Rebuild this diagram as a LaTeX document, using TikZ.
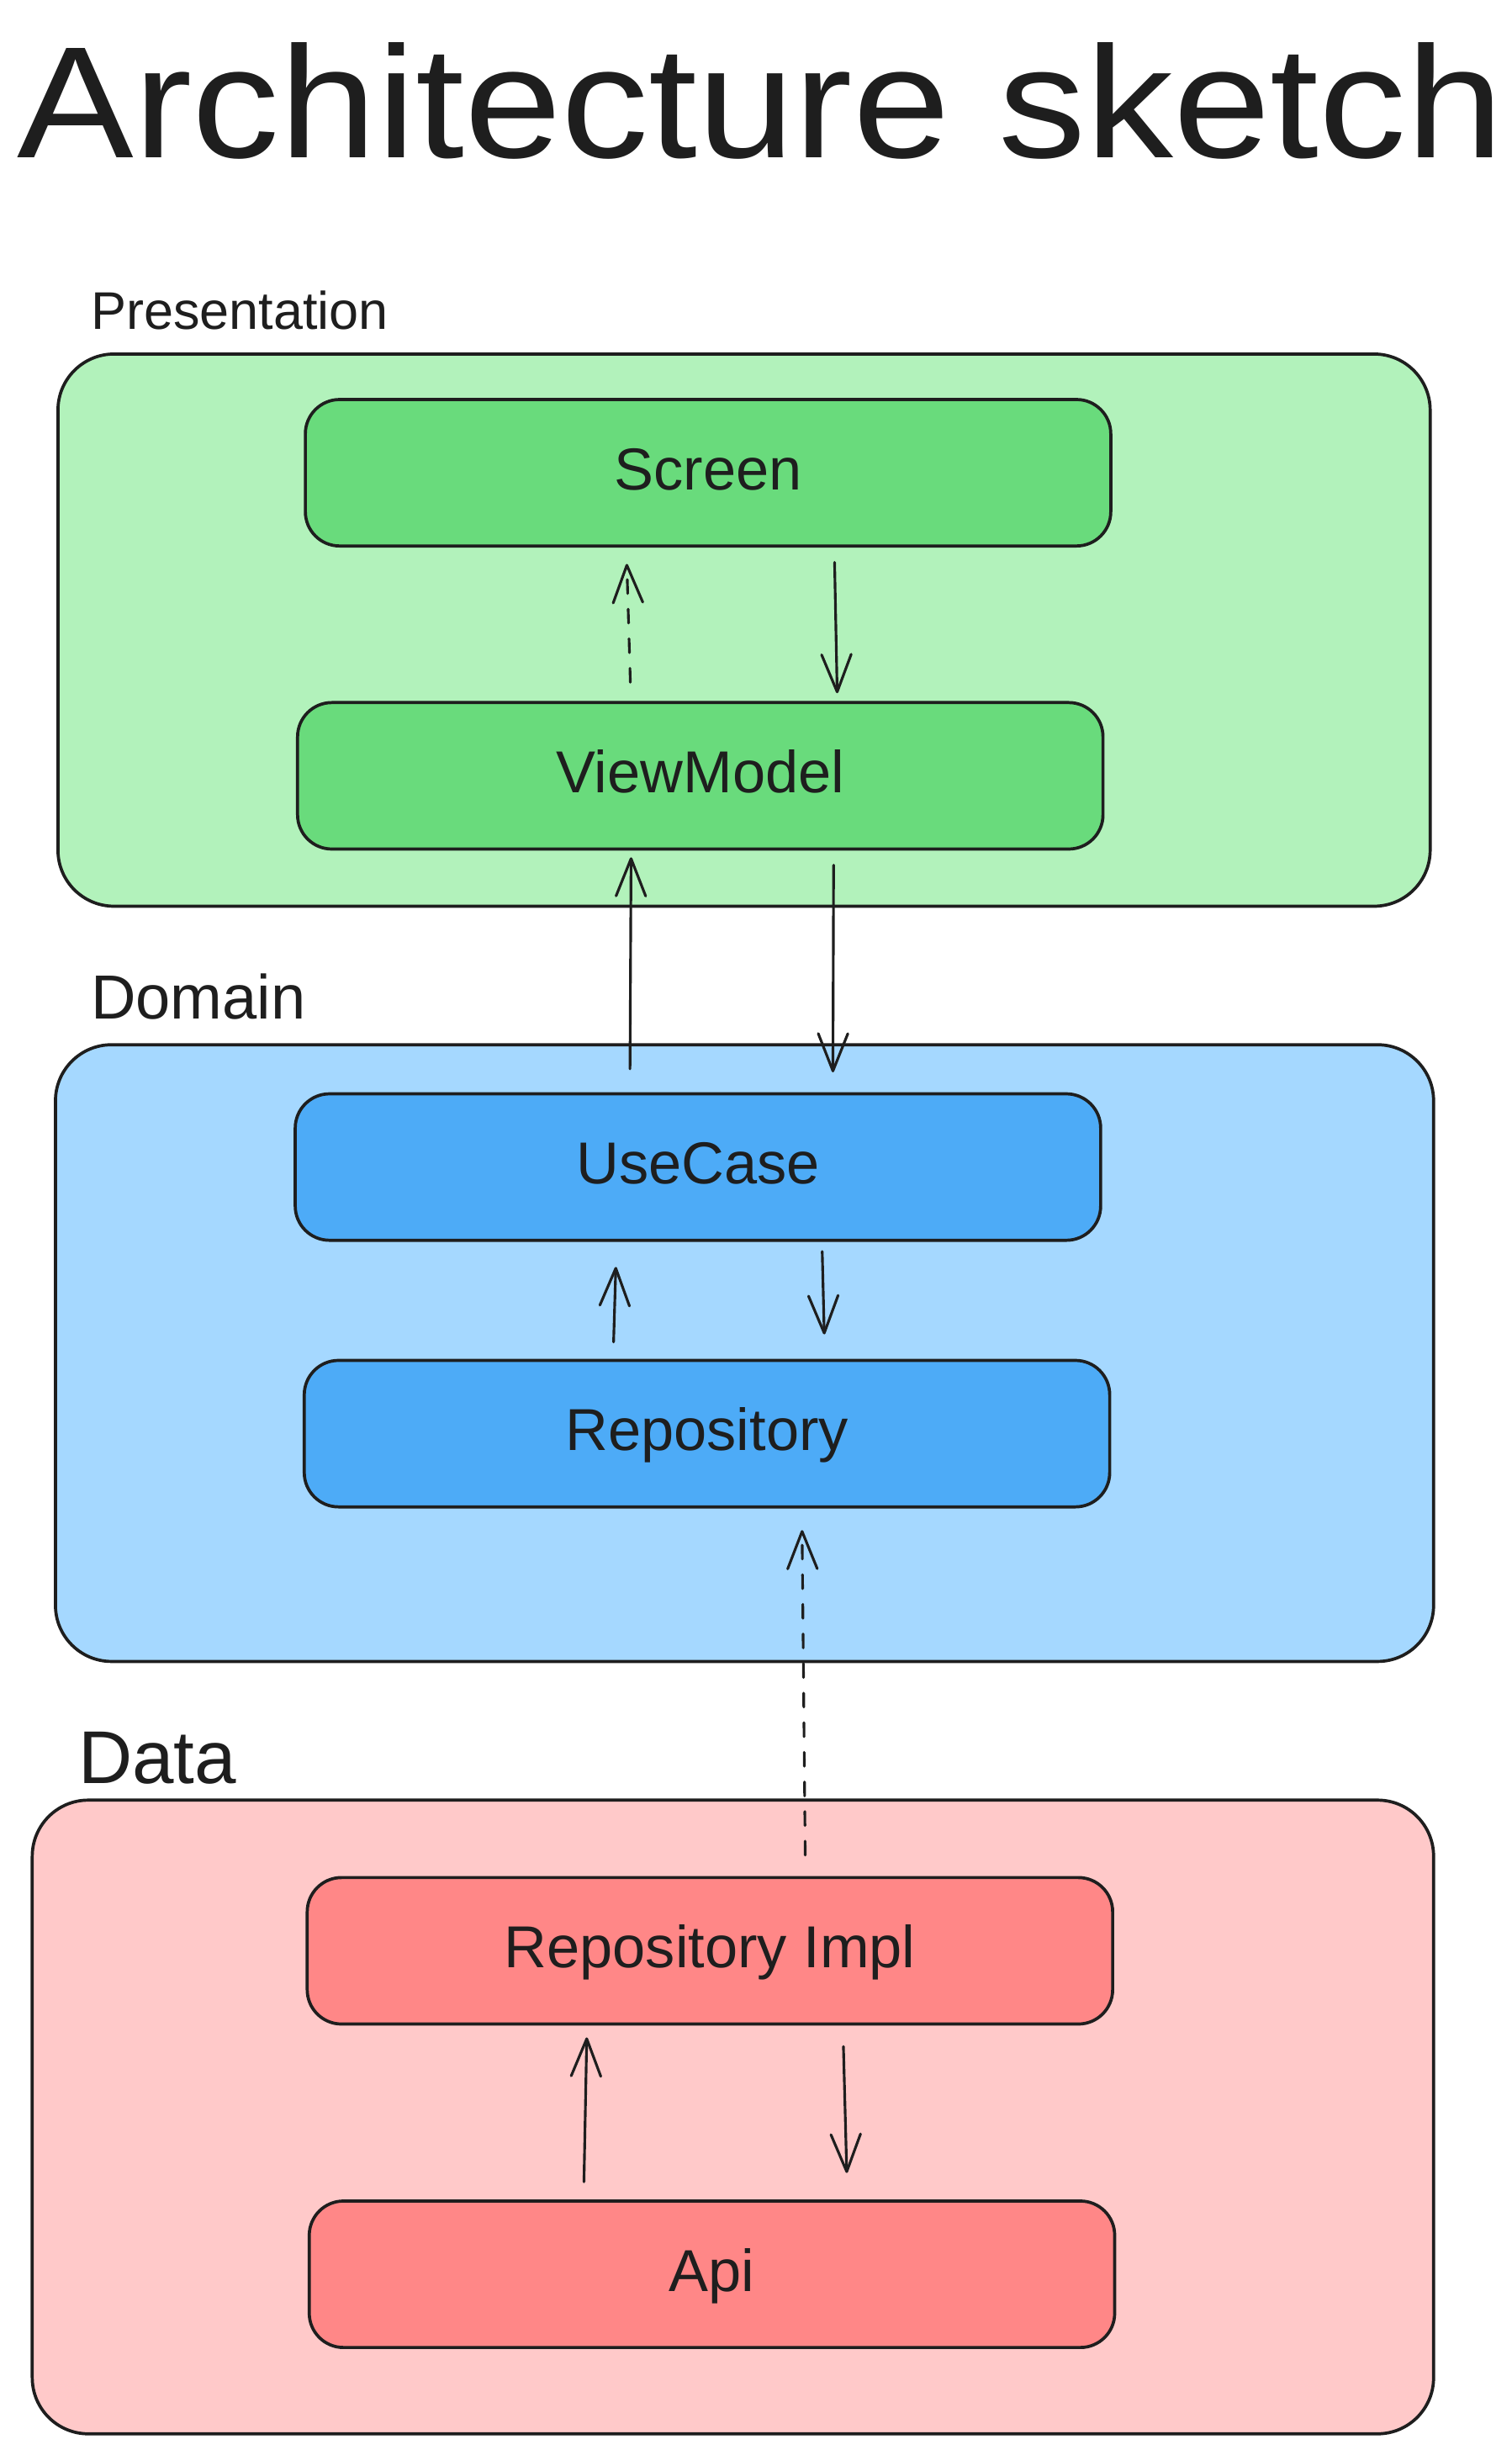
\documentclass[tikz,border=0pt]{standalone}
\usepackage{fontspec}
\setmainfont{Liberation Sans}
\usepackage{graphicx}
\usepackage{xcolor}
\definecolor{inkDark}{HTML}{1E1E1E}
\definecolor{presentBg}{HTML}{B2F2BB}
\definecolor{presentFill}{HTML}{69DB7C}
\definecolor{domainBg}{HTML}{A5D8FF}
\definecolor{domainFill}{HTML}{4DABF7}
\definecolor{dataBg}{HTML}{FFC9C9}
\definecolor{dataFill}{HTML}{FF8787}
\usetikzlibrary{positioning,arrows.meta}
\tikzset{%
  layerBox/.style={%
    rectangle,
    rounded corners=36pt,
    draw=inkDark,
    line width=2pt,
    anchor=north west,
    inner sep=0pt,
    outer sep=0pt
  },
  partBox/.style={%
    rectangle,
    rounded corners=22pt,
    draw=inkDark,
    line width=2pt,
    outer sep=0pt,
    minimum width=517pt,
    minimum height=94pt,
    text height=22pt,
    text depth=0pt,
    text=inkDark,
    font=\fontsize{38}{40}\selectfont
  },
  layerLabel/.style={%
    anchor=base west,
    inner sep=0pt,
    text=inkDark
  },
  flowLine/.style={%
    -{Straight Barb[length=24pt,width=19pt,round]},
    line width=1.7pt,
    line cap=round,
    color=inkDark
  },
  flowDashed/.style={%
    flowLine,
    dash pattern=on 9pt off 10pt
  }
}

\begin{document}
\begin{tikzpicture}[x=1pt,y=-1pt]
            \useasboundingbox[fill=white] (0,0) rectangle (970,1572.4);

            \node[layerLabel, font=\fontsize{102}{110}\selectfont] (title) at (11,101) {\scalebox{1.1}[1]{Architecture sketch}};

            % layers
            \node[layerBox, fill=presentBg, minimum width=880.8pt, minimum height=354.4pt] (presentation) at (37.2,227.2) {};
            \node[layerBox, fill=domainBg, minimum width=884.6pt, minimum height=395.8pt] (domain) at (35.6,670.5) {};
            \node[layerBox, fill=dataBg, minimum width=899.5pt, minimum height=406.7pt] (data) at (20.7,1155.3) {};

            \node[layerLabel, font=\fontsize{34}{36}\selectfont] (presentationLabel) at (58.2,211.4) {Presentation};
            \node[layerLabel, font=\fontsize{40}{42}\selectfont] (domainLabel) at (58.2,654) {Domain};
            \node[layerLabel, font=\fontsize{48}{50}\selectfont] (dataLabel) at (50,1144.7) {Data};

            % parts
            \node[partBox, fill=presentFill] (screen) at (454.5,303.4) {Screen};
            \node[partBox, fill=presentFill, below=100.5pt of screen, xshift=-5pt] (vm) {ViewModel};
            \node[partBox, fill=domainFill, below=157.1pt of vm, xshift=-1.5pt] (usecase) {UseCase};
            \node[partBox, fill=domainFill, below=77.1pt of usecase, xshift=5.8pt] (repo) {Repository};
            \node[partBox, fill=dataFill, below=237.9pt of repo, xshift=1.9pt] (impl) {Repository Impl};
            \node[partBox, fill=dataFill, below=113.6pt of impl, xshift=1.3pt] (api) {Api};

            % flows
            \draw[flowLine, shorten <=10.5pt, shorten >=6pt] ([xshift=81pt]screen.south) -- ([xshift=88pt]vm.north);
            \draw[flowDashed, shorten <=13pt, shorten >=11.5pt] ([xshift=-44.5pt]vm.north) -- ([xshift=-52.5pt]screen.south);
            \draw[flowLine, shorten <=16pt, shorten >=5.3pt] ([xshift=-43.7pt]usecase.north) -- ([xshift=-44.4pt]vm.south);
            \draw[flowLine, shorten <=10.3pt, shorten >=13.8pt] ([xshift=85.6pt]vm.south) -- ([xshift=86.6pt]usecase.north);
            \draw[flowLine, shorten <=11.8pt, shorten >=17.1pt] ([xshift=-60.3pt]repo.north) -- ([xshift=-52.2pt]usecase.south);
            \draw[flowLine, shorten <=7.2pt, shorten >=16.7pt] ([xshift=79.6pt]usecase.south) -- ([xshift=75.7pt]repo.north);
            \draw[flowDashed, shorten <=14.4pt, shorten >=14.9pt] ([xshift=61.3pt]impl.north) -- ([xshift=60.9pt]repo.south);
            \draw[flowLine, shorten <=12.3pt, shorten >=8.6pt] ([xshift=-82.4pt]api.north) -- ([xshift=-78.9pt]impl.south);
            \draw[flowLine, shorten <=14.4pt, shorten >=18pt] ([xshift=85.3pt]impl.south) -- ([xshift=87pt]api.north);
        \end{tikzpicture}
\end{document}
